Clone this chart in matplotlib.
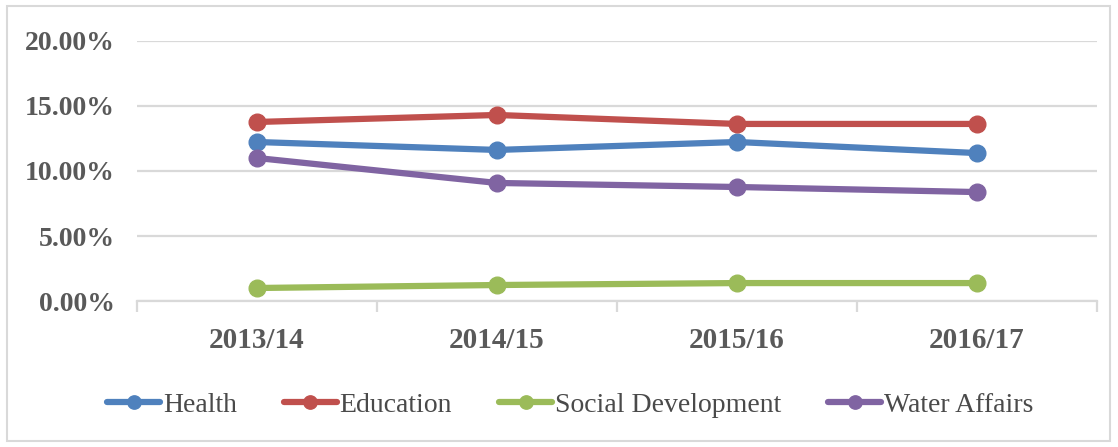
import matplotlib
matplotlib.use("Agg")
import matplotlib.pyplot as plt
from matplotlib.patches import Rectangle
from matplotlib.ticker import PercentFormatter, FixedLocator

years = ["2013/14", "2014/15", "2015/16", "2016/17"]
health = [0.1223, 0.1162, 0.1223, 0.1138]
education = [0.1377, 0.1431, 0.1362, 0.1362]
social_dev = [0.0100, 0.0123, 0.0138, 0.0138]
water = [0.1100, 0.0908, 0.0877, 0.0838]

series = [
    ("Health", health, "#4F81BD"),
    ("Education", education, "#C0504D"),
    ("Social Development", social_dev, "#9BBB59"),
    ("Water Affairs", water, "#8064A2"),
]

text_col = "#595959"
grid_col = "#D9D9D9"

fig = plt.figure(figsize=(11.18, 4.47), dpi=100)
ax = fig.add_axes([0.1225, 0.3266, 0.8587, 0.5817])

x = list(range(len(years)))
for name, vals, col in series:
    ax.plot(x, vals, color=col, lw=4.5, marker="o", ms=12,
            solid_capstyle="round", label=name)

ax.set_xlim(-0.5, len(years) - 0.5)
ax.set_ylim(0, 0.20)
ax.set_yticks([0, 0.05, 0.10, 0.15, 0.20])
ax.yaxis.set_major_formatter(PercentFormatter(1.0, decimals=2))
ax.set_xticks(x)
ax.set_xticklabels(years)
ax.xaxis.set_minor_locator(FixedLocator([i - 0.5 for i in range(len(years) + 1)]))

ax.grid(axis="y", color=grid_col, lw=1.6)
ax.set_axisbelow(True)
for side in ["top", "right", "left"]:
    ax.spines[side].set_visible(False)
ax.spines["bottom"].set_color(grid_col)
ax.spines["bottom"].set_linewidth(1.6)

ax.tick_params(axis="y", length=0, pad=16)
ax.tick_params(axis="x", which="major", length=0, pad=19)
ax.tick_params(axis="x", which="minor", length=8, width=1.6, color=grid_col)
for lab in ax.get_xticklabels():
    lab.set_fontsize(21)
for lab in ax.get_yticklabels():
    lab.set_fontsize(20)
for lab in ax.get_xticklabels() + ax.get_yticklabels():
    lab.set_fontfamily("Liberation Serif")
    lab.set_fontweight("bold")
    lab.set_color(text_col)

fig.legend(loc="center", bbox_to_anchor=(0.51, 0.094), ncol=4, frameon=False,
           prop={"family": "Liberation Serif", "size": 20},
           labelcolor="#4a4a4a", handlelength=1.9, handletextpad=0.1,
           columnspacing=1.7, markerscale=0.8)

fig.patches.append(Rectangle((7 / 1118, 6 / 447), 1103 / 1118, 435 / 447,
                             transform=fig.transFigure, fill=False,
                             edgecolor=grid_col, lw=1.5))

fig.savefig("out.png", dpi=100)
